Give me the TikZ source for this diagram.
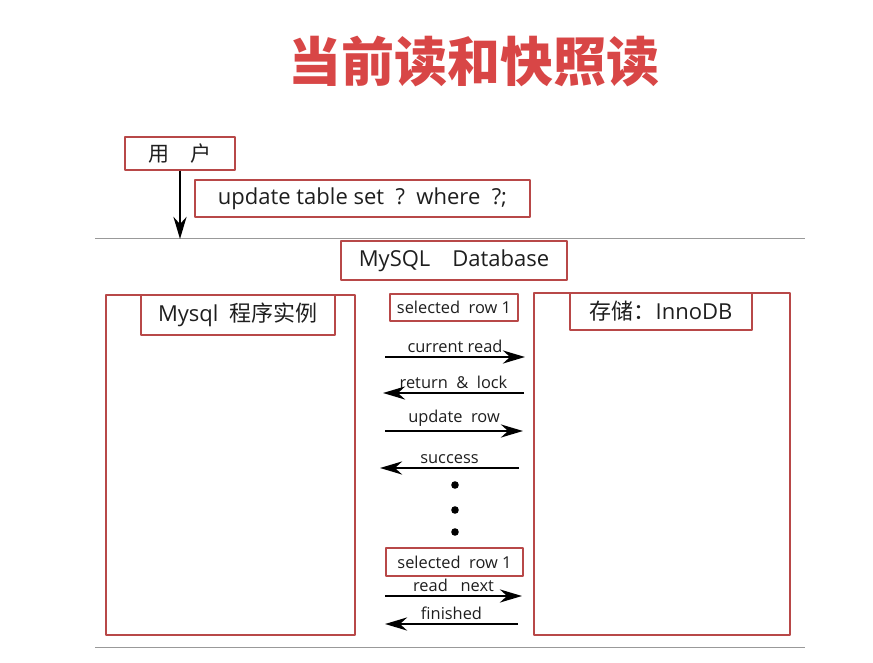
\documentclass[tikz,border=0pt]{standalone}
\usepackage{fontspec}
\setmainfont{Open Sans}
\newfontfamily\cjk{Noto Sans CJK SC}
\usetikzlibrary{arrows.meta}
\definecolor{boxred}{HTML}{B84848}
\definecolor{titlered}{HTML}{D84646}
\definecolor{txt}{HTML}{1E1E1E}
\begin{document}
\begin{tikzpicture}[x=1pt, y=-1pt, line join=round,
	box/.style={draw=boxred, line width=1.2pt, inner sep=0pt, text=txt},
	big/.style={font=\fontsize{22}{26}\selectfont},
	small/.style={font=\fontsize{16.4}{19}\selectfont},
	msg/.style={-{Stealth[length=22pt,width=13pt,inset=7pt]}, line width=2.8pt},
	rule/.style={draw=black!40, line width=1pt}]
	\useasboundingbox (0,0) rectangle (873,663);
	% title
	\node[text=titlered, font=\cjk\bfseries\fontsize{53}{58}\selectfont] (title) at (474,62) {当前读和快照读};
	% user and statement
	\node[box, font=\fontsize{21}{25}\selectfont, minimum width=110pt, minimum height=33pt] (user) at (180,153.5) {\cjk 用\hspace{1em}户};
	\node[box, big, minimum width=335pt, minimum height=37pt] (sql) at (362.5,198.5) {update table set\ \ ?\ \ where\ \ ?;};
	\coordinate (lineL) at (95,239); \coordinate (lineR) at (805,239);
	\coordinate (hit) at (180,239);
	\draw[rule] (lineL) -- (lineR);
	\draw[msg] (user.south) -- (hit);
	\node[box, big, minimum width=226pt, minimum height=39pt] (db) at (454,260.5) {MySQL\quad Database};
	% two sides
	\node[box, minimum width=249pt, minimum height=340pt] (inst) at (230.5,465) {};
	\node[box, big, minimum width=194pt, minimum height=40pt] (instlabel) at (238,315) {Mysql\ \ {\cjk 程序实例}};
	\node[box, big, minimum width=182pt, minimum height=37pt] (storelabel) at (661,311.5) {{\cjk 存储：}InnoDB};
	\node[box, minimum width=256pt, minimum height=342pt] (store) at (662,464) {};
	\node[box, small, minimum width=128pt, minimum height=27pt] (sel1) at (454,307.5) {selected\ \ row 1};
	\node[box, small, minimum width=137pt, minimum height=28pt] (sel2) at (454.5,562) {selected\ \ row 1};
	% messages
	\foreach \n/\y/\a/\b/\t in {1/357/385/525/current read, 2/393/524/383/return\ \ \&\ \ lock,
		3/431/385/523/update\ \ row, 4/468/519/380/success,
		5/596/385/522/read\ \ \ next, 6/624/518/385/finished}{
		\coordinate (s\n) at (\a,\y); \coordinate (e\n) at (\b,\y);
		\draw[msg] (s\n) -- node[small, text=txt, above=0pt] (m\n) {\t} (e\n);
	}
	\foreach \y in {485,510,532} \fill (455,\y) circle (3.8pt);
	\coordinate (botL) at (95,647); \coordinate (botR) at (805,647);
	\draw[rule] (botL) -- (botR);
\end{tikzpicture}
\end{document}
